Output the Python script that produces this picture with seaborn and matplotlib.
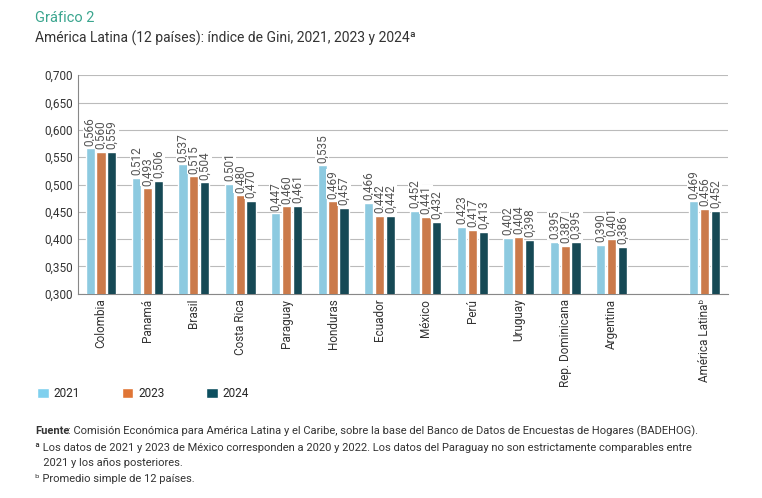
import seaborn as sns
import matplotlib.pyplot as plt
from matplotlib.patches import Patch
from matplotlib.ticker import FixedLocator, FuncFormatter
import pandas as pd

countries = ["Colombia", "Panamá", "Brasil", "Costa Rica", "Paraguay", "Honduras", "Ecuador",
             "México", "Perú", "Uruguay", "Rep. Dominicana", "Argentina", " ", "América Latinaᵇ"]
years = ["2021", "2023", "2024"]
gini_2021 = [0.566, 0.512, 0.537, 0.501, 0.447, 0.535, 0.466, 0.452, 0.423, 0.402, 0.395, 0.390, None, 0.469]
gini_2023 = [0.560, 0.493, 0.515, 0.480, 0.460, 0.469, 0.442, 0.441, 0.417, 0.404, 0.387, 0.401, None, 0.456]
gini_2024 = [0.559, 0.506, 0.504, 0.470, 0.461, 0.457, 0.442, 0.432, 0.413, 0.398, 0.395, 0.386, None, 0.452]
colors = ["#7fd0ee", "#e07535", "#0c4f5f"]

rows = []
for yr, vals in zip(years, [gini_2021, gini_2023, gini_2024]):
    for c, v in zip(countries, vals):
        if v is not None:
            rows.append({"pais": c, "anio": yr, "gini": v})
df = pd.DataFrame(rows)

sns.set_style("white")
plt.rcParams['font.family'] = ['Roboto', 'DejaVu Sans']
fig = plt.figure(figsize=(7.62, 4.98), dpi=100)
ax = fig.add_axes([0.102, 0.41, 0.853, 0.439])

sns.barplot(data=df, x="pais", y="gini", hue="anio", order=countries, hue_order=years,
            palette=colors, width=0.7, gap=0.15, legend=False, ax=ax, zorder=3)

for cont in ax.containers:
    labels = [f"{b.get_height():.3f}".replace('.', ',') for b in cont]
    ax.bar_label(cont, labels=labels, rotation=90, padding=2, fontsize=8.5, color="#555555",
                 bbox=dict(facecolor="white", edgecolor="none", pad=0.3), zorder=4)

ax.set_ylim(0.3, 0.7)
ax.set_xlim(-0.5, len(countries) - 0.5)
ax.yaxis.set_major_locator(FixedLocator([0.3 + 0.05 * i for i in range(9)]))
ax.yaxis.set_major_formatter(FuncFormatter(lambda v, p: f"{v:.3f}".replace('.', ',')))
ax.grid(axis="y", color="#bbbbbb", linewidth=0.8, zorder=0)
ax.set_xlabel("")
ax.set_ylabel("")
ax.tick_params(axis="x", which="major", length=0, rotation=90, labelsize=8.5, colors="#333333")
ax.tick_params(axis="y", labelsize=8.5, colors="#333333", length=0)
ax.set_xticks([i - 0.5 for i in range(1, len(countries))], minor=True)
ax.tick_params(axis="x", which="minor", length=6, color="#888888", width=0.8)
for s in ["top", "right"]:
    ax.spines[s].set_visible(False)
for s in ["left", "bottom"]:
    ax.spines[s].set_color("#888888")

handles = [Patch(facecolor=c, label=y) for c, y in zip(colors, years)]
fig.legend(handles=handles, loc="lower left", bbox_to_anchor=(0.035, 0.175), ncol=3, frameon=False,
           fontsize=8.5, handlelength=1.0, handleheight=1.0, columnspacing=3.5, handletextpad=0.4)

fig.text(0.046, 0.955, "Gráfico 2", color="#3aa58e", fontsize=10.5)
fig.text(0.046, 0.915, "América Latina (12 países): índice de Gini, 2021, 2023 y 2024ª", color="#333333", fontsize=10)
foot = [("Fuente", ": Comisión Económica para América Latina y el Caribe, sobre la base del Banco de Datos de Encuestas de Hogares (BADEHOG)."),
        ("", "ª Los datos de 2021 y 2023 de México corresponden a 2020 y 2022. Los datos del Paraguay no son estrictamente comparables entre"),
        ("", "   2021 y los años posteriores."),
        ("", "ᵇ Promedio simple de 12 países.")]
ys = [0.128, 0.095, 0.064, 0.033]
for (b, t), y in zip(foot, ys):
    if b:
        fig.text(0.046, y, "Fuente", fontsize=8, fontweight="bold", color="#333333")
        fig.text(0.089, y, t, fontsize=8, color="#333333")
    else:
        fig.text(0.046, y, t, fontsize=8, color="#333333")

fig.savefig("out.png", dpi=100)
